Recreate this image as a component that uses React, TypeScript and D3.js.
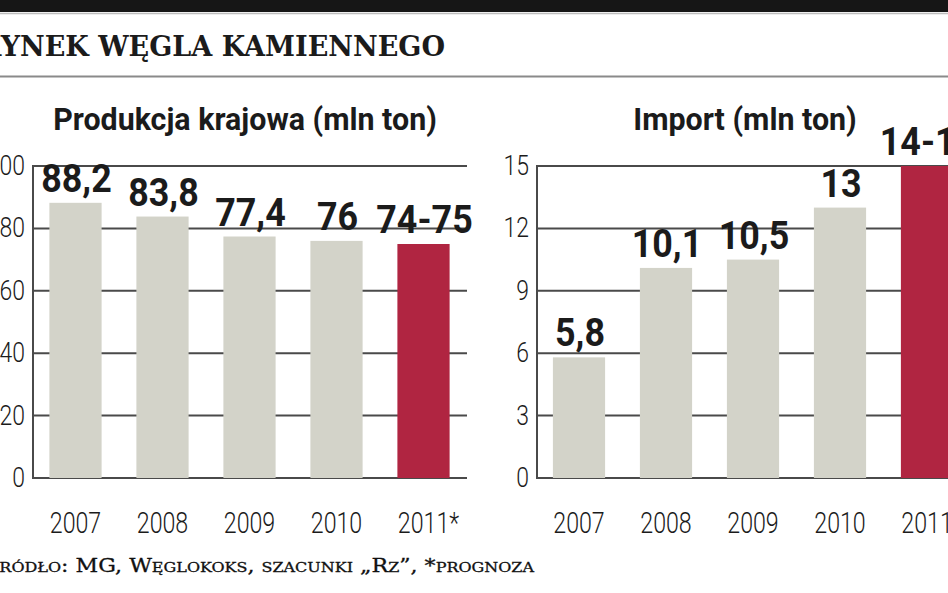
import React from "react";
import * as d3 from "d3";

const years = ["2007", "2008", "2009", "2010", "2011"];
const yearLabels = ["2007", "2008", "2009", "2010", "2011*"];
const productionValues = [88.2, 83.8, 77.4, 76, 75];
const productionLabels = ["88,2", "83,8", "77,4", "76", "74-75"];
const importValues = [5.8, 10.1, 10.5, 13, 15];
const importLabels = ["5,8", "10,1", "10,5", "13", "14-15"];
const productionTicks = [0, 20, 40, 60, 80, 100];
const importTicks = [0, 3, 6, 9, 12, 15];
const forecastYear = "2011";

const W = 948;
const H = 593;
const GREY = "#d3d3c9";
const RED = "#b02541";
const INK = "#1b1b1b";
const LINE = "#4a4a4a";

type PanelProps = {
  title: string;
  titleX: number;
  axisX: number;
  rangeStart: number;
  gridEnd: number;
  values: number[];
  labels: string[];
  ticks: number[];
  max: number;
};

const Scaled = ({ x, y, sx, children, ...rest }: any) => (
  <text transform={`translate(${x},${y}) scale(${sx},1)`} {...rest}>
    {children}
  </text>
);

function Panel(p: PanelProps) {
  const yTop = 166;
  const yBottom = 478;
  const x = d3
    .scaleBand<string>()
    .domain(years)
    .range([p.rangeStart, p.rangeStart + 435])
    .paddingInner(0.4)
    .paddingOuter(0.2);
  const y = d3.scaleLinear().domain([0, p.max]).range([yBottom, yTop]);
  return (
    <g>
      <Scaled
        x={p.titleX}
        y={130}
        sx={0.95}
        textAnchor="middle"
        fontFamily="Roboto"
        fontWeight={700}
        fontSize={32}
        fill={INK}
      >
        {p.title}
      </Scaled>
      {p.ticks.map((t) => (
        <g key={t}>
          <line
            x1={p.axisX}
            x2={p.gridEnd}
            y1={y(t)}
            y2={y(t)}
            stroke={LINE}
            strokeWidth={2}
          />
          <Scaled
            x={p.axisX - 8}
            y={y(t) + 9}
            sx={0.82}
            textAnchor="end"
            fontFamily="Roboto"
            fontWeight={300}
            fontSize={28}
            fill={INK}
          >
            {t}
          </Scaled>
        </g>
      ))}
      <line
        x1={p.axisX}
        x2={p.axisX}
        y1={yTop - 1}
        y2={yBottom + 1}
        stroke={LINE}
        strokeWidth={2}
      />
      {years.map((yr, i) => (
        <g key={yr}>
          <rect
            x={x(yr)!}
            width={x.bandwidth()}
            y={y(p.values[i])}
            height={yBottom - y(p.values[i])}
            fill={yr === forecastYear ? RED : GREY}
          />
          <Scaled
            x={x(yr)! + x.bandwidth() / 2 + 1}
            y={y(p.values[i]) - 11}
            sx={0.92}
            textAnchor="middle"
            fontFamily="Roboto"
            fontWeight={700}
            fontSize={39}
            fill={INK}
          >
            {p.labels[i]}
          </Scaled>
          <Scaled
            x={
              x(yr)! +
              x.bandwidth() / 2 +
              (yearLabels[i].endsWith("*") ? 5 : 0)
            }
            y={533}
            sx={0.8}
            textAnchor="middle"
            fontFamily="Roboto"
            fontWeight={300}
            fontSize={29}
            fill={INK}
          >
            {yearLabels[i]}
          </Scaled>
        </g>
      ))}
    </g>
  );
}

export default function App() {
  return (
    <svg
      width={W}
      height={H}
      style={{ position: "absolute", left: 0, top: 0, background: "#fff" }}
    >
      <rect x={0} y={0} width={W} height={H} fill="#fff" />
      <rect x={0} y={0} width={W} height={12} fill="#161616" />
      <line x1={0} x2={W} y1={13.5} y2={13.5} stroke="#bdbdbd" strokeWidth={1.5} />
      <text
        x={-21}
        y={56}
        textLength={466}
        lengthAdjust="spacingAndGlyphs"
        fontFamily="DejaVu Serif"
        fontWeight={700}
        fontSize={27}
        fill={INK}
      >
        RYNEK WĘGLA KAMIENNEGO
      </text>
      <line x1={0} x2={W} y1={76.5} y2={76.5} stroke="#8a8a8a" strokeWidth={2} />
      <Panel
        title="Produkcja krajowa (mln ton)"
        titleX={245}
        axisX={33}
        rangeStart={32}
        gridEnd={467}
        values={productionValues}
        labels={productionLabels}
        ticks={productionTicks}
        max={100}
      />
      <Panel
        title="Import (mln ton)"
        titleX={745}
        axisX={537}
        rangeStart={535.5}
        gridEnd={W}
        values={importValues}
        labels={importLabels}
        ticks={importTicks}
        max={15}
      />
      <text
        x={-16}
        y={572}
        textLength={550}
        lengthAdjust="spacingAndGlyphs"
        fontFamily="DejaVu Serif"
        fontWeight={400}
        fontSize={18}
        fill="#111"
        stroke="#111"
        strokeWidth={0.3}
        style={{ fontVariant: "small-caps" }}
      >
        Źródło: MG, Węglokoks, szacunki „Rz”, *prognoza
      </text>
    </svg>
  );
}
